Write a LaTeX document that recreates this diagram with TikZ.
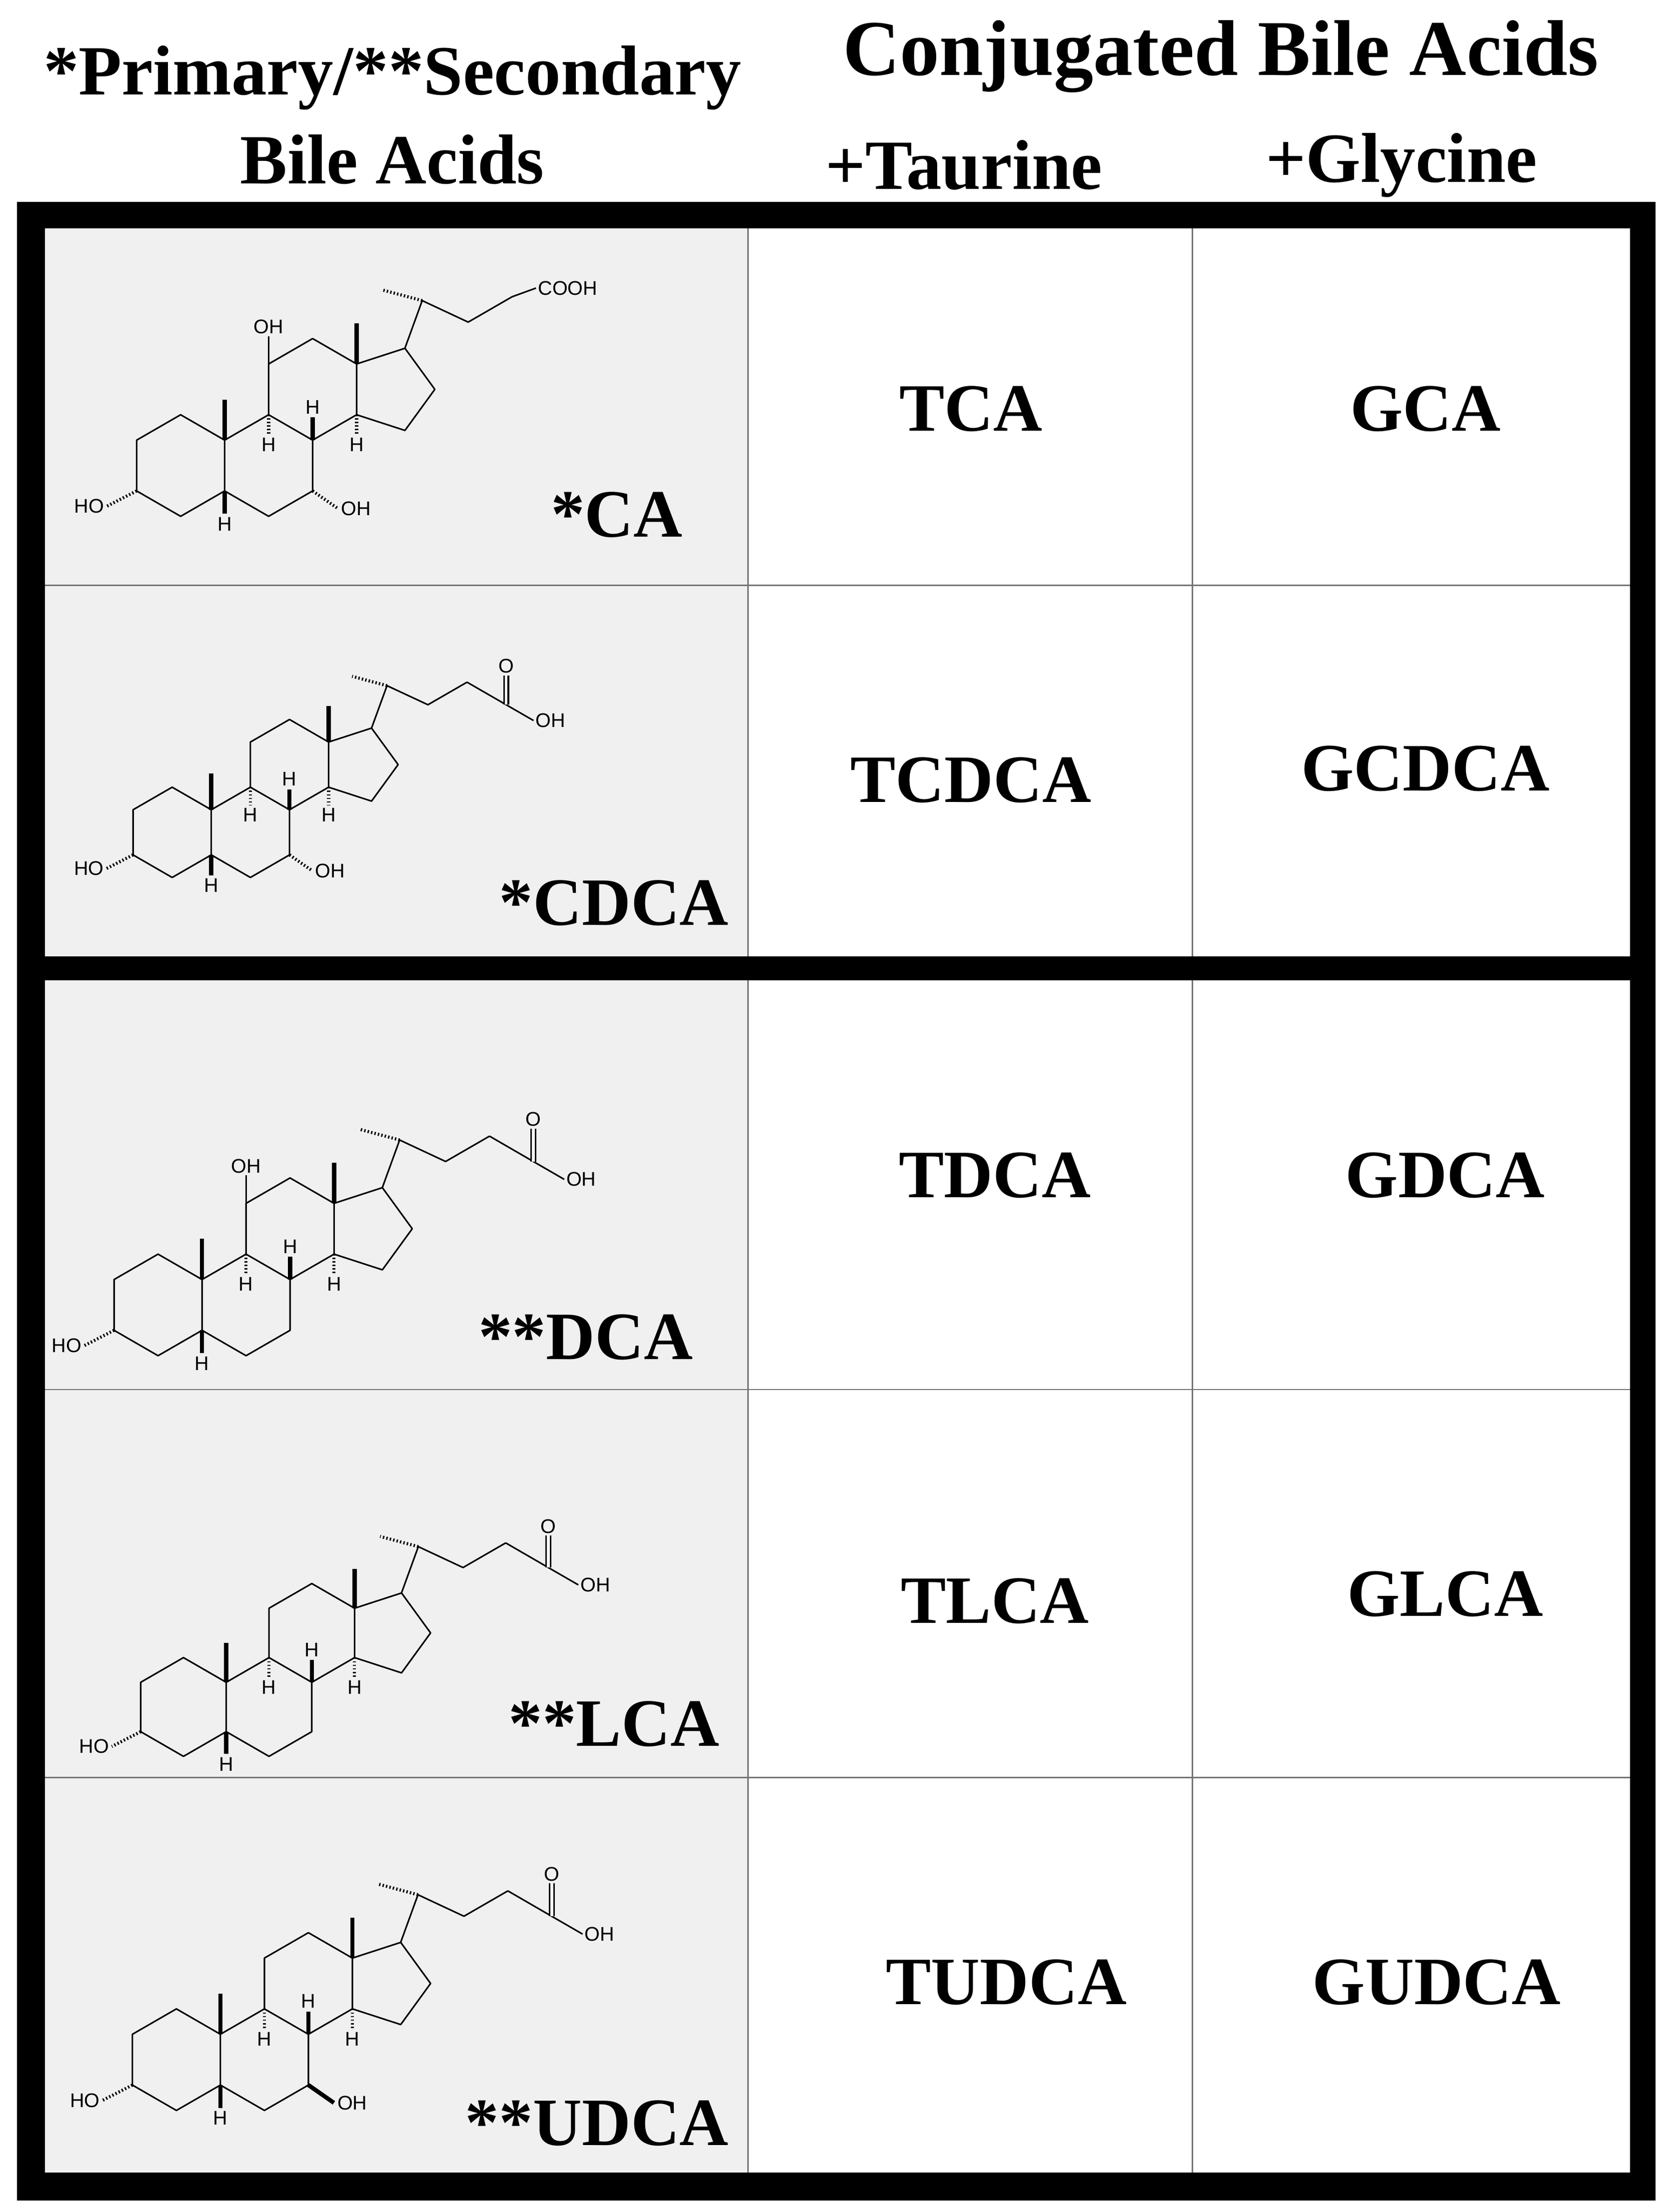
\documentclass[tikz,border=0pt]{standalone}
\usepackage{fontspec}
\setmainfont{Liberation Serif}
\setsansfont{Liberation Sans}
\usetikzlibrary{calc}
\tikzset{
 bond/.style={line width=1.1pt,line join=round},
 wedge/.style={line width=3pt},
 hash/.style={line width=2.2pt,dash pattern=on 1pt off 1.5pt},
 atom/.style={font=\sffamily\fontsize{14}{14}\selectfont,inner sep=1pt},
 lbl/.style={font=\bfseries\fontsize{48}{50}\selectfont,inner sep=0pt},
 head/.style={font=\bfseries\fontsize{50}{52}\selectfont,inner sep=0pt},
 grid/.style={line width=1pt,draw=black!55}
}
\newcommand\ster[4]{%
\begin{scope}[shift={(#1,-#2)},scale=#3]
 \draw[bond] (-.866,.5)--(0,1)--(.866,.5)--(.866,-.5)--(0,-1)--(-.866,-.5)--cycle;
 \draw[bond] (.866,.5)--(1.732,1)--(2.598,.5)--(2.598,-.5)--(1.732,-1)--(.866,-.5);
 \draw[bond] (1.732,1)--(1.732,2)--(2.598,2.5)--(3.464,2)--(3.464,1)--(2.598,.5);
 \draw[bond] (3.464,2)--(4.415,2.309)--(5.003,1.5)--(4.415,.691)--(3.464,1);
 \draw[wedge] (.866,.5)--(.866,1.3);
 \draw[wedge] (3.464,2)--(3.464,2.8);
 \draw[wedge] (.866,-.5)--(.866,-.95) node[below,atom]{H};
 \draw[wedge] (2.598,.5)--(2.598,.95) node[above,atom]{H};
 \draw[hash] (1.732,1)--(1.732,.6) node[below,atom]{H};
 \draw[hash] (3.464,1)--(3.464,.6) node[below,atom]{H};
 \draw[hash] (-.866,-.5)--(-1.45,-.8) node[left,atom]{HO};
 \coordinate (c17) at (4.415,2.309);
 \coordinate (c20) at ($(c17)+(70:1)$);
 \coordinate (c22) at ($(c20)+(-25:1)$);
 \coordinate (c23) at ($(c22)+(30:1)$);
 \coordinate (c24) at ($(c23)+(-30:1)$);
 \draw[bond] (c17)--(c20)--(c22)--(c23);
 \draw[hash] (c20)--++(165:.8);
 #4
\end{scope}}
\newcommand\acid{\draw[bond] (c23)--(c24)--++(-30:.7) node[right,atom]{OH};
 \draw[bond,double,double distance=2pt] (c24)--++(90:.65) node[above,atom]{O};}
\newcommand\cooh{\draw[bond] (c23)--++(20:.5) node[right,atom]{COOH};}
\newcommand\ohtw{\draw[bond] (1.732,2)--(1.732,2.55) node[above,atom]{OH};}
\newcommand\ohsa{\draw[hash] (2.598,-.5)--(3.1,-.85) node[right,atom]{OH};}
\newcommand\ohsb{\draw[wedge] (2.598,-.5)--(3.1,-.85) node[right,atom]{OH};}
\begin{document}
\begin{tikzpicture}[x=1pt,y=1pt]
\useasboundingbox (0,0) rectangle (1186,-1568);
\fill[white] (0,0) rectangle (1186,-1568);
% headers
\node[head] at (278,-55) {*Primary/**Secondary};
\node[head] at (278,-113) {Bile Acids};
\node[font=\bfseries\fontsize{56}{58}\selectfont,inner sep=0pt] at (865,-40) {Conjugated Bile Acids};
\node[head] at (683,-117) {+Taurine};
\node[head] at (993,-117) {+Glycine};
% frame
\fill[black] (12,-143) rectangle (1173,-1560);
\fill[white] (32,-162) rectangle (1155,-678);
\fill[white] (32,-695) rectangle (1155,-1540);
\fill[black!6] (32,-162) rectangle (530,-678);
\fill[black!6] (32,-695) rectangle (530,-1540);
\draw[grid] (530,-162)--(530,-678) (845,-162)--(845,-678) (32,-415)--(1155,-415);
\draw[grid] (530,-695)--(530,-1540) (845,-695)--(845,-1540) (32,-985)--(1155,-985) (32,-1260)--(1155,-1260);
% molecules
\ster{128}{330}{36}{\cooh\ohtw\ohsa}
\ster{122}{590}{32}{\acid\ohsa}
\ster{112}{925}{36}{\acid\ohtw}
\ster{130}{1210}{35}{\acid}
\ster{125}{1460}{36}{\acid\ohsb}
% names
\node[lbl] at (437,-365) {*CA};
\node[lbl] at (435,-640) {*CDCA};
\node[lbl] at (415,-948) {**DCA};
\node[lbl] at (435,-1222) {**LCA};
\node[lbl] at (423,-1505) {**UDCA};
\node[lbl] at (688,-290) {TCA};
\node[lbl] at (1010,-290) {GCA};
\node[lbl] at (688,-553) {TCDCA};
\node[lbl] at (1010,-545) {GCDCA};
\node[lbl] at (705,-833) {TDCA};
\node[lbl] at (1024,-833) {GDCA};
\node[lbl] at (705,-1135) {TLCA};
\node[lbl] at (1024,-1130) {GLCA};
\node[lbl] at (713,-1405) {TUDCA};
\node[lbl] at (1018,-1405) {GUDCA};
\end{tikzpicture}
\end{document}
